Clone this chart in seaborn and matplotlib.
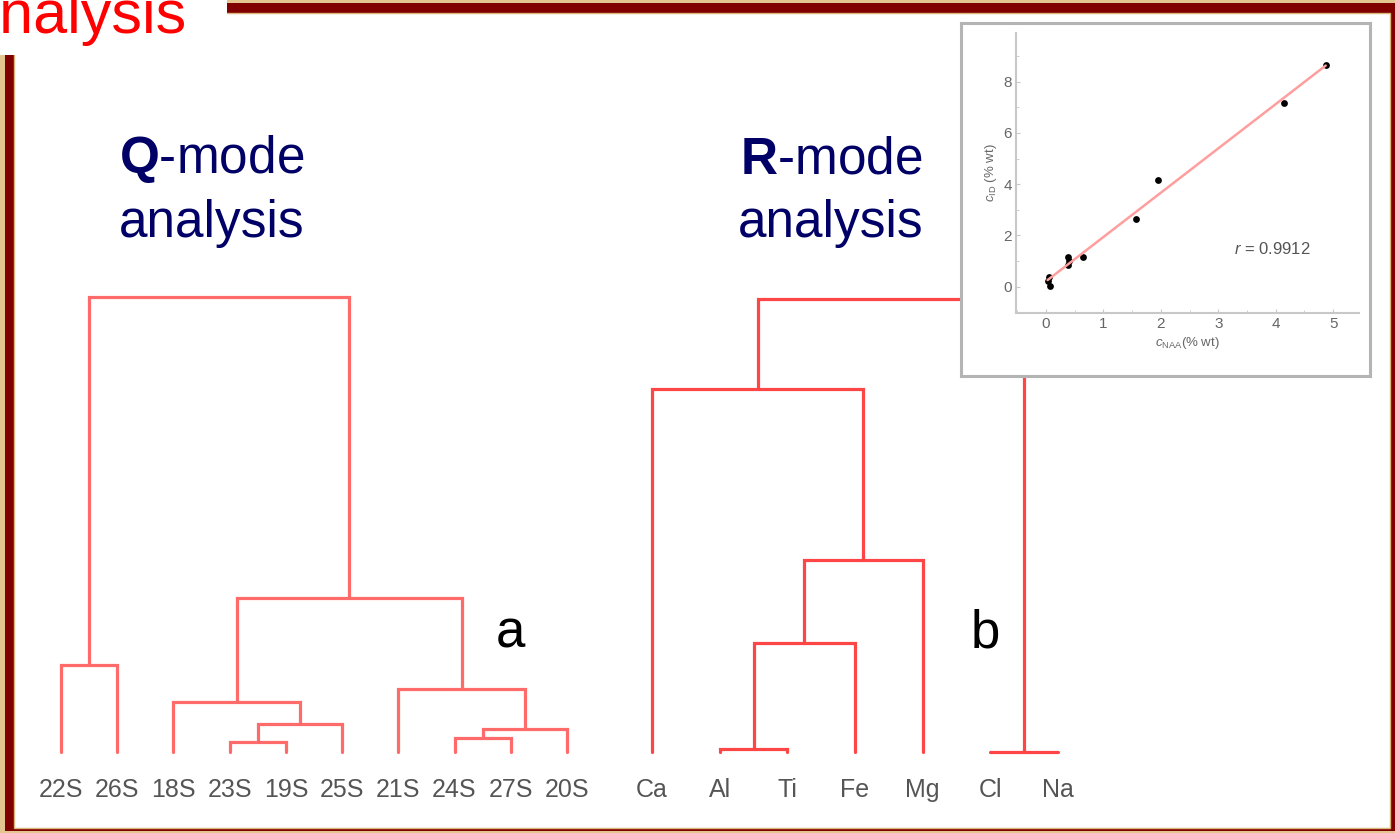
import numpy as np
import pandas as pd
import seaborn as sns
import matplotlib.pyplot as plt
from matplotlib.patches import Rectangle
from matplotlib.ticker import MultipleLocator

# Q-mode dendrogram (samples), merges given as (left, right, distance)
q_leaves = ["22S", "26S", "18S", "23S", "19S", "25S", "21S", "24S", "27S", "20S"]
q_merges = [("23S", "19S", 0.22), ("m0", "25S", 0.62), ("18S", "m1", 1.10),
            ("24S", "27S", 0.31), ("m3", "20S", 0.51), ("21S", "m4", 1.38),
            ("22S", "26S", 1.91), ("m2", "m5", 3.38), ("m6", "m7", 10.0)]

# R-mode dendrogram (elements)
r_leaves = ["Ca", "Al", "Ti", "Fe", "Mg", "Cl", "Na"]
r_merges = [("Al", "Ti", 0.07), ("m0", "Fe", 2.40), ("m1", "Mg", 4.22),
            ("Ca", "m2", 7.98), ("Cl", "Na", 0.0), ("m3", "m4", 9.96)]

# inset: method comparison
x_naa = [0.03, 0.06, 0.08, 0.39, 0.39, 0.40, 0.64, 1.56, 1.96, 4.14, 4.87]
y_id = [0.20, 0.38, 0.01, 1.16, 0.85, 1.00, 1.16, 2.62, 4.15, 7.18, 8.65]
r_value = 0.9912

sns.set_style("white")
plt.rcParams["font.family"] = ["Liberation Sans", "DejaVu Sans"]
plt.rcParams["mathtext.fontset"] = "custom"
plt.rcParams["mathtext.rm"] = "Liberation Sans"
plt.rcParams["mathtext.it"] = "Liberation Sans:italic"
plt.rcParams["mathtext.bf"] = "Liberation Sans:bold"

W, H = 1395, 833
fig = plt.figure(figsize=(W / 100, H / 100), dpi=100, facecolor="#e3c68f")


def add_px_axes(left, top, right, bottom):
    return fig.add_axes([left / W, 1 - bottom / H, (right - left) / W, (bottom - top) / H])


# slide background and frame
bg = fig.add_axes([0, 0, 1, 1])
bg.set_xlim(0, W)
bg.set_ylim(H, 0)
bg.axis("off")
bg.add_patch(Rectangle((5, 3), 1400, 828, facecolor="#800000", edgecolor="none"))
bg.add_patch(Rectangle((14, 13), 1376, 815, facecolor="white", edgecolor="#d9b77a", lw=1))
bg.add_patch(Rectangle((-5, -5), 232, 60, facecolor="white", edgecolor="none"))
bg.text(186, 33, "Cluster Analysis", color="red", fontsize=44, ha="right", va="baseline")

navy = "#000066"
bg.text(119, 173, r"$\mathbf{Q}$-mode", color=navy, fontsize=37, va="baseline")
bg.text(119, 237, "analysis", color=navy, fontsize=37, va="baseline")
bg.text(740, 173, r"$\mathbf{R}$-mode", color=navy, fontsize=37, va="baseline")
bg.text(738, 237, "analysis", color=navy, fontsize=37, va="baseline")
bg.text(510, 648, "a", color="black", fontsize=38, ha="center", va="baseline")
bg.text(985, 648, "b", color="black", fontsize=38, ha="center", va="baseline")


def draw_dendrogram(ax, leaves, merges, color):
    pos = {name: (i, 0.0) for i, name in enumerate(leaves)}
    for k, (a, b, h) in enumerate(merges):
        xa, ha = pos[a]
        xb, hb = pos[b]
        ax.plot([xa, xa, xb, xb], [ha, h, h, hb], color=color, lw=2.3,
                solid_joinstyle="miter", clip_on=False)
        pos[f"m{k}"] = ((xa + xb) / 2, h)
    ax.set_xlim(-0.5, len(leaves) - 0.5)
    ax.set_ylim(0, 10.5)
    ax.set_facecolor("none")
    sns.despine(ax=ax, left=True, bottom=True)
    ax.set_yticks([])
    ax.set_xticks(range(len(leaves)), leaves)
    ax.tick_params(axis="x", length=0, pad=19, labelsize=18, labelcolor="#555555")


q_ax = add_px_axes(61 - 28.1, 752 - 477.75, 567 + 28.1, 752)
draw_dendrogram(q_ax, q_leaves, q_merges, "#ff6b6b")

sp = (1058 - 652) / 6
r_ax = add_px_axes(652 - sp / 2, 752 - 477.75, 1058 + sp / 2, 752)
draw_dendrogram(r_ax, r_leaves, r_merges, "#ff4646")

# inset frame
frame = add_px_axes(961, 23, 1370, 376)
frame.set_xticks([])
frame.set_yticks([])
frame.set_facecolor("white")
for s in frame.spines.values():
    s.set_color("#b4b4b4")
    s.set_linewidth(2.2)

# inset scatter with regression line
ins = add_px_axes(1016, 33, 1359, 313)
df = pd.DataFrame({"naa": x_naa, "id": y_id})
sns.regplot(data=df, x="naa", y="id", ax=ins, ci=None,
            scatter_kws=dict(color="black", s=24, alpha=1, linewidths=0),
            line_kws=dict(color="#ff9e9e", lw=1.8, zorder=1))
ins.set_xlim(-0.52, 5.45)
ins.set_ylim(-1.03, 9.9)
ins.set_facecolor("none")
sns.despine(ax=ins)
for s in ("left", "bottom"):
    ins.spines[s].set_color("#c8c8c8")
    ins.spines[s].set_linewidth(1.5)
ins.xaxis.set_major_locator(MultipleLocator(1))
ins.xaxis.set_minor_locator(MultipleLocator(0.5))
ins.yaxis.set_major_locator(MultipleLocator(2))
ins.yaxis.set_minor_locator(MultipleLocator(1))
ins.tick_params(which="both", direction="in", color="#c8c8c8", labelcolor="#666666",
                labelsize=11, pad=3, bottom=True, left=True)
ins.tick_params(which="major", length=3)
ins.tick_params(which="minor", length=2)
ins.set_xlabel(r"$c_{\mathrm{NAA}}$(% wt)", fontsize=9.5, color="#666666", labelpad=3)
ins.set_ylabel(r"$c_{\mathrm{ID}}$ (% wt)", fontsize=9.5, color="#666666", labelpad=3)
ins.text(3.94, 1.47, f"$r$ = {r_value}", fontsize=12, color="#555555",
         ha="center", va="center")

fig.savefig("out.png", dpi=100)
